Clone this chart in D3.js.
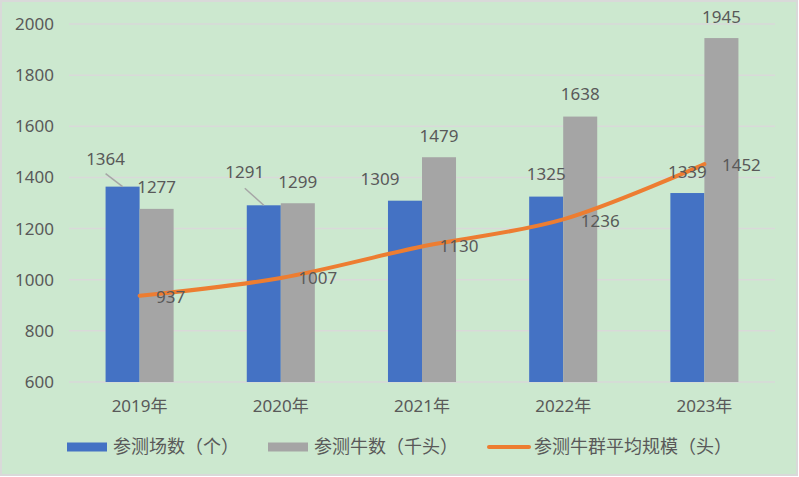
<!DOCTYPE html>
<html>
<head>
<meta charset="utf-8">
<script src="https://cdn.jsdelivr.net/npm/d3@7"></script>
<style>
  body { margin: 0; background: #fff; }
  text { font-family: "Noto Sans", "Noto Sans CJK SC", sans-serif; fill: #595959; }
  .legend text { text-spacing-trim: space-all; font-feature-settings: "halt" 0, "chws" 0; }
</style>
</head>
<body>
<svg id="chart" width="799" height="477"></svg>
<script>
const years = ['2019年', '2020年', '2021年', '2022年', '2023年'];
const farms = [1364, 1291, 1309, 1325, 1339];      // 参测场数（个）
const cattle = [1277, 1299, 1479, 1638, 1945];     // 参测牛数（千头）
const avgSize = [937, 1007, 1130, 1236, 1452];     // 参测牛群平均规模（头）
const yTicks = [600, 800, 1000, 1200, 1400, 1600, 1800, 2000];
const seriesNames = ['参测场数（个）', '参测牛数（千头）', '参测牛群平均规模（头）'];

// label nudges (dx, dy) relative to bar top centre / line point
const farmLabelPos = [[-17, -22], [-19, -27], [-25, -16], [0, -17], [0, -15]];
const cattleLabelPos = [[0, -16], [0, -15], [0, -15.5], [0, -16.5], [0, -15.5]];
const avgLabelPos = [[31, 7], [37, 6], [37, 5.5], [37, 7.5], [37, 7]];

const svg = d3.select('#chart');
const W = 799, H = 477;
const m = { left: 69, right: 24, top: 24, bottom: 95 };
const fs = '17px';

svg.append('rect')
    .attr('x', 1).attr('y', 1)
    .attr('width', W - 3).attr('height', H - 3)
    .attr('fill', '#cce8cf')
    .attr('stroke', '#d9d9d9')
    .attr('stroke-width', 2);

const x = d3.scaleBand()
    .domain(years)
    .range([m.left, W - m.right]);

const xInner = d3.scaleBand()
    .domain(['farms', 'cattle'])
    .range([0, x.bandwidth()])
    .paddingInner(0)
    .paddingOuter(1.075);

const y = d3.scaleLinear()
    .domain([600, 2000])
    .range([H - m.bottom, m.top]);

// gridlines
svg.append('g')
    .selectAll('line')
    .data(yTicks)
    .join('line')
    .attr('x1', m.left).attr('x2', W - m.right)
    .attr('y1', d => y(d)).attr('y2', d => y(d))
    .attr('stroke', '#d9d9d9')
    .attr('stroke-width', 1.5);

// y axis
const yAxis = svg.append('g')
    .attr('transform', `translate(${m.left - 15},0)`)
    .call(d3.axisLeft(y).tickValues(yTicks).tickFormat(d3.format('d')).tickSize(0).tickPadding(0));
yAxis.select('.domain').remove();
yAxis.selectAll('text')
    .style('font-size', fs)
    .attr('fill', '#595959');

// x axis
const xAxis = svg.append('g')
    .attr('transform', `translate(0,${H - m.bottom})`)
    .call(d3.axisBottom(x).tickSize(0).tickPadding(18));
xAxis.select('.domain').remove();
xAxis.selectAll('text')
    .style('font-size', fs)
    .attr('fill', '#595959');
svg.selectAll('.tick text').attr('font-family', null);

// bars
const groups = svg.append('g')
    .selectAll('g')
    .data(years)
    .join('g')
    .attr('transform', d => `translate(${x(d)},0)`);

groups.append('rect')
    .attr('x', xInner('farms'))
    .attr('width', xInner.bandwidth())
    .attr('y', (d, i) => y(farms[i]))
    .attr('height', (d, i) => y(600) - y(farms[i]))
    .attr('fill', '#4472c4');

groups.append('rect')
    .attr('x', xInner('cattle'))
    .attr('width', xInner.bandwidth())
    .attr('y', (d, i) => y(cattle[i]))
    .attr('height', (d, i) => y(600) - y(cattle[i]))
    .attr('fill', '#a5a5a5');

// line
const cx = d => x(d) + x.bandwidth() / 2;
const farmCx = i => x(years[i]) + xInner('farms') + xInner.bandwidth() / 2;
const cattleCx = i => x(years[i]) + xInner('cattle') + xInner.bandwidth() / 2;

const line = d3.line()
    .x((d, i) => cx(years[i]))
    .y(d => y(d))
    .curve(d3.curveCatmullRom.alpha(0));

svg.append('path')
    .datum(avgSize)
    .attr('d', line)
    .attr('fill', 'none')
    .attr('stroke', '#ed7d31')
    .attr('stroke-width', 4)
    .attr('stroke-linecap', 'round');

// leader lines for the 2019 and 2020 farm labels
const leaders = [[0, -17, -13], [1, -19, -17]];
svg.append('g')
    .selectAll('line')
    .data(leaders)
    .join('line')
    .attr('x1', d => farmCx(d[0]) + d[1])
    .attr('y1', d => y(farms[d[0]]) + d[2])
    .attr('x2', d => farmCx(d[0]))
    .attr('y2', d => y(farms[d[0]]))
    .attr('stroke', '#a6a6a6')
    .attr('stroke-width', 1.5);

// data labels
const labels = svg.append('g').style('font-size', fs).attr('text-anchor', 'middle');

labels.selectAll('.lf')
    .data(farms)
    .join('text')
    .attr('class', 'lf')
    .attr('x', (d, i) => farmCx(i) + farmLabelPos[i][0])
    .attr('y', (d, i) => y(d) + farmLabelPos[i][1])
    .text(d => d);

labels.selectAll('.lc')
    .data(cattle)
    .join('text')
    .attr('class', 'lc')
    .attr('x', (d, i) => cattleCx(i) + cattleLabelPos[i][0])
    .attr('y', (d, i) => y(d) + cattleLabelPos[i][1])
    .text(d => d);

labels.selectAll('.la')
    .data(avgSize)
    .join('text')
    .attr('class', 'la')
    .attr('x', (d, i) => cx(years[i]) + avgLabelPos[i][0])
    .attr('y', (d, i) => y(d) + avgLabelPos[i][1])
    .text(d => d);

// legend
const legend = svg.append('g').attr('class', 'legend').attr('transform', 'translate(0,447)');
const legendX = [67, 268, 487];
const legendColors = ['#4472c4', '#a5a5a5', '#ed7d31'];

seriesNames.forEach((name, i) => {
    if (i < 2) {
        legend.append('rect')
            .attr('x', legendX[i]).attr('y', -4.5)
            .attr('width', 40).attr('height', 9)
            .attr('fill', legendColors[i]);
    } else {
        legend.append('line')
            .attr('x1', legendX[i] + 2).attr('x2', legendX[i] + 42)
            .attr('y1', 0).attr('y2', 0)
            .attr('stroke', legendColors[i])
            .attr('stroke-width', 4)
            .attr('stroke-linecap', 'round');
    }
    legend.append('text')
        .attr('x', legendX[i] + (i < 2 ? 46 : 47))
        .attr('y', 0)
        .attr('dy', '0.35em')
        .style('font-size', '18px')
        .text(name);
});
</script>
</body>
</html>
